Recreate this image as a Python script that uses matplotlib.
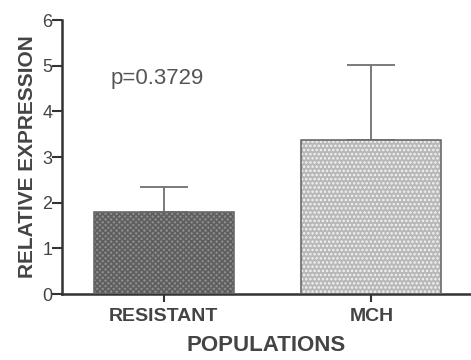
import matplotlib
matplotlib.use("Agg")
import matplotlib.pyplot as plt

plt.rcParams['font.family'] = ['Liberation Sans', 'DejaVu Sans']
plt.rcParams['hatch.linewidth'] = 1.2

populations = ['RESISTANT', 'MCH']
expression = [1.79, 3.37]
sem = [0.55, 1.65]
face_colors = ['#8c8c8c', '#b8b8b8']
hatch_colors = ['#5e5e5e', '#f4f4f4']
hatches = ['xxxxxx', '....']

fig = plt.figure(figsize=(4.71, 3.6), dpi=100)
ax = fig.add_axes([0.1316, 0.1833, 0.8684, 0.7611])

x = range(len(populations))
for i in x:
    ax.bar(i, expression[i], width=0.675, color=face_colors[i],
           edgecolor=hatch_colors[i], hatch=hatches[i], linewidth=0, zorder=2)
    ax.bar(i, expression[i], width=0.675, color='none',
           edgecolor='#6a6a6a', linewidth=1.2, zorder=3)
    ax.errorbar(i, expression[i], yerr=[[0], [sem[i]]], fmt='none',
                ecolor='#707070', elinewidth=1.3, capsize=17, capthick=1.3, zorder=1)

ax.set_xlim(-0.49, 1.48)
ax.set_ylim(0, 6)
ax.set_yticks(range(7))
ax.set_xticks(list(x))
ax.set_xticklabels(populations, fontweight='bold', fontsize=14, color='#444444')
ax.tick_params(axis='y', labelsize=13, labelcolor='#444444', length=7,
               width=1.5, color='#333333', pad=0)
ax.tick_params(axis='x', length=6, width=1.5, color='#333333', pad=4)

for s in ['top', 'right']:
    ax.spines[s].set_visible(False)
for s in ['left', 'bottom']:
    ax.spines[s].set_linewidth(1.8)
    ax.spines[s].set_color('#333333')

ax.set_ylabel('RELATIVE EXPRESSION', fontsize=15, fontweight='bold',
              color='#444444', labelpad=4)
ax.set_xlabel('POPULATIONS', fontsize=16, fontweight='bold',
              color='#444444', labelpad=7)

ax.text(-0.03, 4.73, 'p=0.3729', fontsize=16, color='#555555',
        ha='center', va='center')

fig.savefig('out.png', dpi=100)
